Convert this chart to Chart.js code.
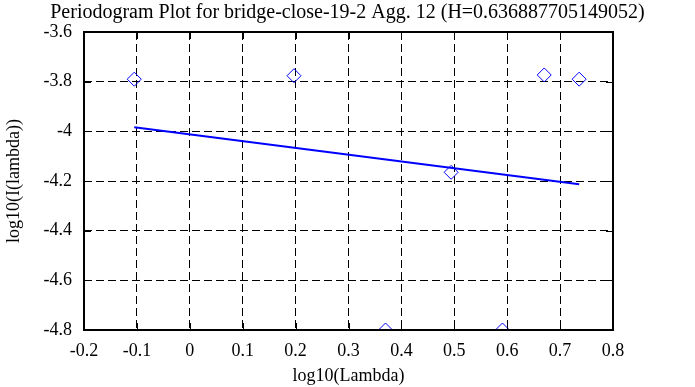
<!DOCTYPE html>
<html>
<head>
<meta charset="utf-8">
<script src="https://cdn.jsdelivr.net/npm/chart.js@4.4.0/dist/chart.umd.min.js"></script>
<style>
  html, body { margin: 0; padding: 0; background: #fff; }
  #wrap { width: 695px; height: 387px; }
</style>
</head>
<body>
<div id="wrap"><canvas id="grafico" width="695" height="387"></canvas></div>
<script>
// puntos del periodograma
const logLambda = [-0.105, 0.197, 0.370, 0.494, 0.591, 0.670, 0.736];
const logI = [-3.79, -3.776, -4.80, -4.165, -4.80, -3.773, -3.79];

// recta de ajuste
const ajusteX = [-0.105, 0.736];
const ajusteY = [-3.984, -4.213];

const xTicks = [-0.2, -0.1, 0, 0.1, 0.2, 0.3, 0.4, 0.5, 0.6, 0.7, 0.8];
const yTicks = [-4.8, -4.6, -4.4, -4.2, -4, -3.8, -3.6];

const fuente = "'Liberation Serif', 'Times New Roman', serif";

// marco y marcas hacia adentro
const marcoPlugin = {
    id: 'marco',
    afterDraw(chart) {
        const ctx = chart.ctx;
        const a = chart.chartArea;
        const sx = chart.scales.x;
        const sy = chart.scales.y;
        ctx.save();
        ctx.strokeStyle = '#000';
        ctx.lineWidth = 1;
        ctx.setLineDash([]);
        ctx.beginPath();
        xTicks.forEach(v => {
            const px = Math.round(sx.getPixelForValue(v)) + 0.5;
            ctx.moveTo(px, a.bottom); ctx.lineTo(px, a.bottom - 7);
            ctx.moveTo(px, a.top); ctx.lineTo(px, a.top + 7);
        });
        yTicks.forEach(v => {
            const py = Math.round(sy.getPixelForValue(v)) + 0.5;
            ctx.moveTo(a.left, py); ctx.lineTo(a.left + 7, py);
            ctx.moveTo(a.right, py); ctx.lineTo(a.right - 7, py);
        });
        ctx.stroke();
        ctx.lineWidth = 2;
        ctx.strokeRect(a.left, a.top, a.right - a.left, a.bottom - a.top);
        ctx.restore();
    }
};

const ctx = document.getElementById('grafico').getContext('2d');
new Chart(ctx, {
    type: 'scatter',
    data: {
        datasets: [{
            label: 'datos',
            data: logLambda.map((x, i) => ({ x: x, y: logI[i] })),
            pointStyle: 'rectRot',
            pointRadius: 7,
            pointBorderWidth: 1,
            borderColor: '#0000ff',
            backgroundColor: 'rgba(0,0,0,0)',
            showLine: false
        }, {
            label: 'ajuste',
            data: ajusteX.map((x, i) => ({ x: x, y: ajusteY[i] })),
            showLine: true,
            pointRadius: 0,
            borderColor: '#0000ff',
            borderWidth: 2
        }]
    },
    options: {
        responsive: false,
        animation: false,
        layout: { padding: 0 },
        plugins: {
            legend: { display: false },
            tooltip: { enabled: false },
            title: {
                display: true,
                text: 'Periodogram Plot for bridge-close-19-2 Agg. 12 (H=0.636887705149052)',
                color: '#000',
                font: { family: fuente, size: 20, weight: 'normal' },
                padding: { top: 1, bottom: 7 }
            }
        },
        scales: {
            x: {
                type: 'linear',
                min: -0.2,
                max: 0.8,
                afterBuildTicks: s => { s.ticks = xTicks.map(v => ({ value: v })); },
                afterFit: s => { s.height = 57; },
                ticks: {
                    color: '#000',
                    font: { family: fuente, size: 18 },
                    padding: 10,
                    maxRotation: 0,
                    callback: v => String(Number(v.toFixed(1)))
                },
                grid: { color: '#000', lineWidth: 1, drawTicks: false },
                border: { display: false, dash: [8, 4] },
                title: {
                    display: true,
                    text: 'log10(Lambda)',
                    color: '#000',
                    font: { family: fuente, size: 18 },
                    padding: { top: 2, bottom: 0 }
                }
            },
            y: {
                type: 'linear',
                min: -4.8,
                max: -3.6,
                afterBuildTicks: s => { s.ticks = yTicks.map(v => ({ value: v })); },
                afterFit: s => { s.width = 84; },
                ticks: {
                    color: '#000',
                    font: { family: fuente, size: 18 },
                    padding: 12,
                    callback: v => String(Number(v.toFixed(1)))
                },
                grid: { color: '#000', lineWidth: 1, drawTicks: false },
                border: { display: false, dash: [8, 4] },
                title: {
                    display: true,
                    text: 'log10(I(lambda))',
                    color: '#000',
                    font: { family: fuente, size: 18 },
                    padding: { top: 3, bottom: 2 }
                }
            },
            // margen derecho vacío
            derecha: {
                type: 'linear',
                position: 'right',
                min: -4.8,
                max: -3.6,
                afterFit: s => { s.width = 82; },
                ticks: { display: false },
                grid: { display: false },
                border: { display: false }
            }
        }
    },
    plugins: [marcoPlugin]
});
</script>
</body>
</html>
